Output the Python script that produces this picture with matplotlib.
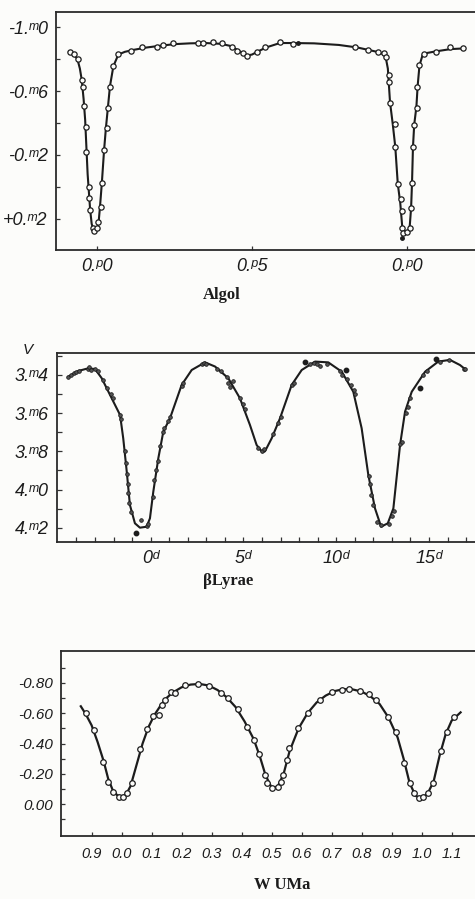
import matplotlib
matplotlib.use("Agg")
import matplotlib.pyplot as plt
from matplotlib.ticker import FixedLocator, MultipleLocator

plt.rcParams['font.family'] = ['Liberation Sans', 'DejaVu Sans']

# ---------------- Algol ----------------
algol_curve_phase = [-0.09, -0.075, -0.063, -0.055, -0.049, -0.043, -0.038, -0.034, -0.030, -0.026,
                     -0.022, -0.017, -0.011, -0.005, 0.000, 0.005, 0.010, 0.016, 0.023, 0.029,
                     0.035, 0.042, 0.053, 0.069, 0.09, 0.12, 0.16, 0.20, 0.25, 0.30, 0.35, 0.40,
                     0.43, 0.455, 0.475, 0.485, 0.50, 0.52, 0.545, 0.59, 0.63, 0.70, 0.78, 0.84,
                     0.88, 0.91, 0.925, 0.931, 0.938, 0.945, 0.954, 0.962, 0.970, 0.978, 0.984,
                     0.990, 1.000, 1.008, 1.013, 1.016, 1.019, 1.023, 1.030, 1.034, 1.040, 1.050,
                     1.065, 1.09, 1.14, 1.18]
algol_curve_mag = [-0.846, -0.83, -0.80, -0.74, -0.67, -0.55, -0.42, -0.25, -0.08, 0.03,
                   0.14, 0.23, 0.27, 0.275, 0.265, 0.23, 0.12, -0.03, -0.23, -0.37,
                   -0.49, -0.63, -0.755, -0.828, -0.845, -0.858, -0.872, -0.882, -0.893, -0.898, -0.900, -0.895,
                   -0.882, -0.855, -0.830, -0.822, -0.828, -0.848, -0.872, -0.900, -0.900, -0.898, -0.888, -0.872,
                   -0.855, -0.842, -0.828, -0.812, -0.74, -0.53, -0.39, -0.25, -0.02, 0.10, 0.24,
                   0.28, 0.285, 0.26, 0.13, -0.03, -0.25, -0.39, -0.50, -0.63, -0.76, -0.825,
                   -0.838, -0.847, -0.862, -0.866]
algol_obs_phase = [-0.087, -0.073, -0.060, -0.049, -0.045, -0.041, -0.036, -0.035, -0.026, -0.024,
                   -0.023, -0.014, -0.009, 0.000, 0.004, 0.012, 0.015, 0.023, 0.031, 0.035,
                   0.042, 0.053, 0.069, 0.110, 0.146, 0.193, 0.214, 0.246, 0.325, 0.343, 0.375,
                   0.402, 0.434, 0.453, 0.470, 0.483, 0.515, 0.542, 0.590, 0.633, 0.832, 0.875,
                   0.907, 0.924, 0.931, 0.942, 0.943, 0.945, 0.961, 0.961, 0.970, 0.979, 0.983,
                   0.985, 0.988, 0.999, 1.008, 1.013, 1.015, 1.018, 1.021, 1.031, 1.033, 1.040,
                   1.055, 1.094, 1.139, 1.180]
algol_obs_mag = [-0.846, -0.829, -0.80, -0.669, -0.623, -0.506, -0.373, -0.22, 0.0, 0.07,
                 0.144, 0.258, 0.273, 0.258, 0.217, 0.123, -0.023, -0.231, -0.367, -0.492,
                 -0.627, -0.756, -0.829, -0.852, -0.873, -0.873, -0.89, -0.902, -0.898, -0.898, -0.904,
                 -0.898, -0.877, -0.852, -0.835, -0.821, -0.846, -0.873, -0.904, -0.894, -0.873, -0.856,
                 -0.846, -0.835, -0.815, -0.70, -0.658, -0.527, -0.392, -0.248, -0.019, 0.077, 0.148,
                 0.258, 0.285, 0.279, 0.258, 0.133, -0.027, -0.252, -0.388, -0.492, -0.627, -0.763,
                 -0.831, -0.846, -0.873, -0.867]
algol_dot_phase = [0.649, 0.985]
algol_dot_mag = [-0.898, 0.32]
algol_yticks = [-1.0, -0.6, -0.2, 0.2]
algol_ylabels = ["-1.ᵐ0", "-0.ᵐ6", "-0.ᵐ2", "+0.ᵐ2"]
algol_xticks = [0.0, 0.5, 1.0]
algol_xlabels = ["0.ᵖ0", "0.ᵖ5", "0.ᵖ0"]

# ---------------- beta Lyrae ----------------
lyr_curve_day = [-4.44, -3.90, -3.36, -3.00, -2.64, -2.19, -1.65, -1.48, -1.29, -1.12, -0.85, -0.58,
                 -0.22, -0.04, 0.14, 0.41, 0.68, 1.04, 1.67, 2.21, 2.93, 3.47, 4.18, 4.81, 5.35,
                 5.71, 6.02, 6.16, 6.52, 6.97, 7.60, 8.14, 8.86, 9.57, 10.30, 10.92, 11.37, 11.73,
                 12.09, 12.42, 12.78, 13.08, 13.44, 13.71, 14.07, 14.79, 15.50, 16.13, 16.67, 16.94]
lyr_curve_mag = [3.409, 3.379, 3.365, 3.369, 3.417, 3.505, 3.61, 3.732, 3.907, 4.081, 4.177, 4.2,
                 4.195, 4.151, 4.012, 3.837, 3.697, 3.627, 3.452, 3.374, 3.334, 3.356, 3.417, 3.522, 3.662,
                 3.767, 3.805, 3.80, 3.732, 3.627, 3.452, 3.374, 3.33, 3.334, 3.383, 3.488, 3.679, 3.924,
                 4.099, 4.195, 4.177, 4.099, 3.767, 3.592, 3.488, 3.383, 3.33, 3.321, 3.348, 3.369]
lyr_obs_day = [-4.45, -4.3, -4.15, -4.0, -3.85, -3.4, -3.3, -3.2, -3.0, -2.85, -2.55, -2.35, -2.15,
               -2.05, -1.65, -1.6, -1.4, -1.35, -1.3, -1.25, -1.2, -1.15, -1.05, -0.52, -0.2,
               -0.15, 0.1, 0.2, 0.3, 0.38, 0.5, 0.65, 0.7, 0.95, 1.05, 1.7, 1.75, 2.75, 2.85, 3.0,
               3.6, 3.8, 4.1, 4.15, 4.25, 4.45, 4.8, 4.95, 5.1, 5.8, 6.0, 6.1, 6.6, 6.85, 7.0, 7.6,
               7.75, 8.6, 8.8, 8.95, 9.1, 9.5, 10.2, 10.3, 10.6, 10.8, 10.95, 11.0, 11.75, 11.8,
               11.9, 12.0, 12.2, 12.4, 12.85, 13.0, 13.1, 13.45, 13.55, 13.75, 13.85, 14.0, 14.7,
               14.9, 15.6, 16.1, 16.9, 16.95]
lyr_obs_mag = [3.41, 3.40, 3.39, 3.385, 3.38, 3.37, 3.36, 3.375, 3.37, 3.38, 3.425, 3.47, 3.50,
               3.52, 3.61, 3.63, 3.80, 3.86, 3.92, 3.97, 4.02, 4.07, 4.12, 4.16, 4.19,
               4.18, 4.04, 3.95, 3.90, 3.85, 3.77, 3.70, 3.68, 3.64, 3.62, 3.46, 3.44, 3.34, 3.335, 3.34,
               3.37, 3.38, 3.41, 3.44, 3.465, 3.43, 3.52, 3.55, 3.58, 3.78, 3.80, 3.79, 3.71, 3.65, 3.62, 3.455,
               3.44, 3.34, 3.335, 3.34, 3.355, 3.345, 3.38, 3.40, 3.42, 3.45, 3.48, 3.50, 3.93, 3.97,
               4.03, 4.08, 4.17, 4.185, 4.18, 4.14, 4.11, 3.76, 3.75, 3.60, 3.57, 3.52, 3.40,
               3.38, 3.33, 3.32, 3.37, 3.37]
lyr_big_day = [-0.79, 8.32, 10.53, 14.52, 15.38]
lyr_big_mag = [4.227, 3.334, 3.374, 3.466, 3.315]
lyr_yticks = [3.4, 3.6, 3.8, 4.0, 4.2]
lyr_ylabels = ["3.ᵐ4", "3.ᵐ6", "3.ᵐ8", "4.ᵐ0", "4.ᵐ2"]
lyr_xticks = [0, 5, 10, 15]
lyr_xlabels = ["0ᵈ", "5ᵈ", "10ᵈ", "15ᵈ"]
lyr_minor_days = [-4, -3, -2, -1, 1, 2, 3, 4, 6, 7, 8, 9, 11, 12, 13, 14, 16, 17]

# ---------------- W UMa ----------------
wuma_curve_phase = [-0.136, -0.12, -0.10, -0.08, -0.06, -0.045, -0.03, -0.015, 0.0, 0.015, 0.03, 0.05,
                    0.07, 0.09, 0.11, 0.13, 0.15, 0.17, 0.20, 0.23, 0.26, 0.29, 0.32, 0.35, 0.38, 0.41,
                    0.44, 0.46, 0.48, 0.50, 0.52, 0.54, 0.56, 0.59, 0.62, 0.65, 0.68, 0.71, 0.74, 0.77,
                    0.80, 0.83, 0.86, 0.89, 0.92, 0.94, 0.96, 0.98, 1.0, 1.02, 1.04, 1.06, 1.08, 1.10, 1.13]
wuma_curve_mag = [-0.645, -0.595, -0.52, -0.41, -0.285, -0.17, -0.095, -0.06, -0.05, -0.065, -0.12, -0.26,
                  -0.40, -0.51, -0.59, -0.65, -0.70, -0.735, -0.77, -0.788, -0.792, -0.782, -0.752, -0.705, -0.64, -0.545,
                  -0.43, -0.32, -0.19, -0.11, -0.115, -0.20, -0.35, -0.50, -0.60, -0.67, -0.715, -0.745, -0.758, -0.756,
                  -0.742, -0.71, -0.66, -0.57, -0.44, -0.30, -0.14, -0.055, -0.04, -0.07, -0.15, -0.32, -0.46, -0.55, -0.605]
wuma_obs_phase = [-0.12, -0.091, -0.061, -0.047, -0.028, -0.009, 0.005, 0.017, 0.033, 0.061, 0.083,
                  0.105, 0.125, 0.135, 0.144, 0.164, 0.178, 0.211, 0.253, 0.291, 0.33, 0.353, 0.387,
                  0.417, 0.441, 0.458, 0.478, 0.483, 0.50, 0.52, 0.531, 0.539, 0.55, 0.558, 0.587,
                  0.62, 0.661, 0.70, 0.733, 0.758, 0.794, 0.825, 0.847, 0.887, 0.914, 0.942, 0.961,
                  0.975, 0.991, 1.005, 1.02, 1.039, 1.064, 1.083, 1.109]
wuma_obs_mag = [-0.599, -0.489, -0.28, -0.149, -0.083, -0.05, -0.05, -0.072, -0.142, -0.362, -0.493,
                -0.581, -0.588, -0.653, -0.686, -0.741, -0.730, -0.785, -0.791, -0.778, -0.734, -0.697, -0.625,
                -0.51, -0.423, -0.331, -0.193, -0.138, -0.105, -0.116, -0.149, -0.193, -0.291, -0.368, -0.5,
                -0.603, -0.686, -0.741, -0.752, -0.757, -0.747, -0.726, -0.686, -0.576, -0.478, -0.27, -0.138,
                -0.072, -0.039, -0.05, -0.076, -0.138, -0.353, -0.478, -0.576]
wuma_xticks = [-0.1, 0.0, 0.1, 0.2, 0.3, 0.4, 0.5, 0.6, 0.7, 0.8, 0.9, 1.0, 1.1]
wuma_xlabels = ["0.9", "0.0", "0.1", "0.2", "0.3", "0.4", "0.5", "0.6", "0.7", "0.8", "0.9", "1.0", "1.1"]
wuma_yticks = [-0.8, -0.6, -0.4, -0.2, 0.0]
wuma_ylabels = ["-0.80", "-0.60", "-0.40", "-0.20", "0.00"]

INK = '#1c1c1c'
BG = '#fcfcfa'
W, H = 475, 899
fig = plt.figure(figsize=(W / 100, H / 100), dpi=100, facecolor=BG)
LABEL_FONT = ['Liberation Sans', 'DejaVu Sans']


def px_axes(l, t, r, b):
    return fig.add_axes([l / W, 1 - b / H, (r - l) / W, (b - t) / H], facecolor=BG)


def style(ax):
    for s in ['top', 'left', 'bottom']:
        ax.spines[s].set_color('#2a2a2a')
        ax.spines[s].set_linewidth(1.3)
    ax.spines['right'].set_visible(False)
    ax.tick_params(which='both', direction='in', color='#333333', width=0.9, length=3,
                   right=False, top=False)
    ax.tick_params(axis='both', which='major', pad=6, labelcolor=INK)


def set_labels(ax, axis, ticks, labels, size):
    a = ax.xaxis if axis == 'x' else ax.yaxis
    a.set_major_locator(FixedLocator(ticks))
    a.set_ticklabels(labels)
    for t in a.get_ticklabels():
        t.set_fontsize(size)
        t.set_style('italic')
        t.set_family(LABEL_FONT)


# Algol
ax1 = px_axes(56, 12, 475, 250)
ax1.plot(algol_curve_phase, algol_curve_mag, color=INK, lw=1.5, zorder=2)
ax1.plot(algol_obs_phase, algol_obs_mag, 'o', ms=3.8, mfc=BG, mec=INK, mew=0.9, zorder=3)
ax1.plot(algol_dot_phase, algol_dot_mag, 'o', ms=2.5, color=INK, zorder=3)
ax1.set_xlim(-0.132, 1.219)
ax1.set_ylim(0.394, -1.094)
set_labels(ax1, 'y', algol_yticks, algol_ylabels, 13)
ax1.yaxis.set_minor_locator(FixedLocator([-0.8, -0.4, 0.0]))
set_labels(ax1, 'x', algol_xticks, algol_xlabels, 13)
style(ax1)
fig.text(222 / W, 1 - 295 / H, "Algol", ha='center', va='center', fontsize=12,
         fontweight='bold', family=['Liberation Serif', 'DejaVu Serif'], color=INK)

# beta Lyrae
ax2 = px_axes(57, 353, 475, 542)
ax2.plot(lyr_curve_day, lyr_curve_mag, color=INK, lw=1.5, zorder=2)
ax2.plot(lyr_obs_day, lyr_obs_mag, 'o', ms=2.6, mfc='#555555', mec=INK, mew=0.6, zorder=3)
ax2.plot(lyr_big_day, lyr_big_mag, 'o', ms=3.2, color=INK, zorder=3)
ax2.set_xlim(-5.05, 17.48)
ax2.set_ylim(4.275, 3.285)
set_labels(ax2, 'y', lyr_yticks, lyr_ylabels, 13)
ax2.yaxis.set_minor_locator(MultipleLocator(0.1))
set_labels(ax2, 'x', lyr_xticks, lyr_xlabels, 13)
ax2.xaxis.set_minor_locator(FixedLocator(lyr_minor_days))
style(ax2)
ax2.tick_params(which='both', length=3.5)
fig.text(28 / W, 1 - 350 / H, "V", ha='center', va='center', fontsize=11,
         style='italic', color=INK)
fig.text(228 / W, 1 - 581 / H, "βLyrae", ha='center', va='center', fontsize=12,
         fontweight='bold', family=['Liberation Serif', 'DejaVu Serif'], color=INK)

# W UMa
ax3 = px_axes(61, 651, 475, 836)
ax3.plot(wuma_curve_phase, wuma_curve_mag, color=INK, lw=1.6, zorder=2)
ax3.plot(wuma_obs_phase, wuma_obs_mag, 'o', ms=4.0, mfc=BG, mec=INK, mew=0.9, zorder=3)
ax3.set_xlim(-0.202, 1.178)
ax3.set_ylim(0.209, -1.009)
set_labels(ax3, 'y', wuma_yticks, wuma_ylabels, 11)
ax3.yaxis.set_minor_locator(FixedLocator([-0.9, -0.7, -0.5, -0.3, -0.1, 0.1]))
set_labels(ax3, 'x', wuma_xticks, wuma_xlabels, 10.5)
style(ax3)
ax3.tick_params(axis='x', pad=8)
fig.text(282 / W, 1 - 885 / H, "W UMa", ha='center', va='center', fontsize=12,
         fontweight='bold', family=['Liberation Serif', 'DejaVu Serif'], color=INK)

fig.savefig("out.png", dpi=100, facecolor=BG)
